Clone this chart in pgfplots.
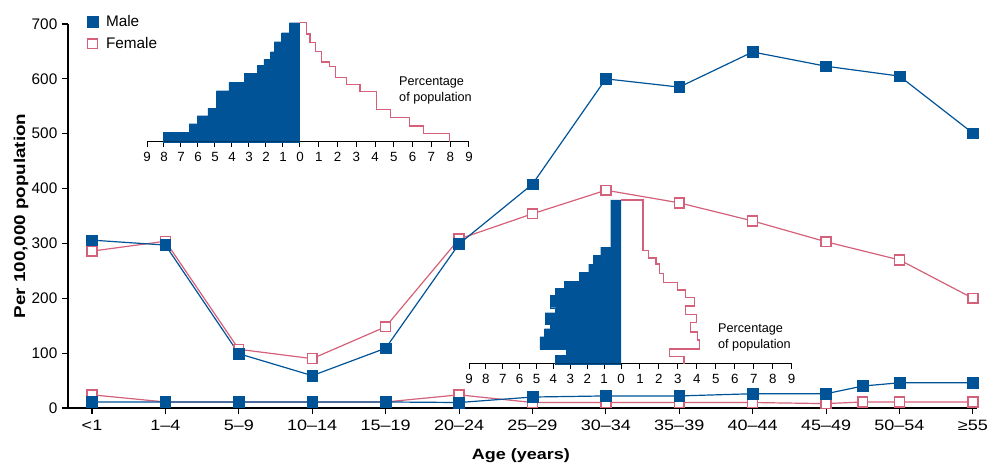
\documentclass[border=0pt]{standalone}
\usepackage{fontspec}
\setmainfont{Liberation Sans}
\newfontfamily\widesans{Liberation Sans}[FakeStretch=1.2, Ligatures=TeX]
\usepackage{pgfplots}
\pgfplotsset{compat=1.18}

\definecolor{male}{RGB}{0,83,151}
\definecolor{female}{RGB}{212,96,122}

\pgfplotsset{
  malestyle/.style={color=male, line width=0.9pt, mark=square*, mark size=4pt,
    mark options={solid, fill=male, draw=male, line width=0.4pt}},
  femalestyle/.style={color=female, line width=0.9pt, mark=square*, mark size=3.7pt,
    mark options={solid, fill=white, draw=female, line width=1.1pt}},
  inset/.style={
    scale only axis, clip=false,
    axis x line*=bottom, axis y line=none,
    axis line style={-, black, line width=0.75pt},
    tick align=outside, major tick length=4pt,
    tick style={black, line width=0.75pt},
    xticklabel style={font=\fontsize{10}{12}\selectfont, inner sep=1pt, yshift=-2.8pt},
    xmin=0, xmax=9, ymin=0,
  },
}

\begin{document}
\begin{tikzpicture}
\useasboundingbox (0,0) rectangle (740.25pt,348pt);

% main chart
\begin{axis}[
  at={(51pt,42pt)}, anchor=south west,
  scale only axis, width=681.4pt, height=288pt,
  xmin=-0.327, xmax=12.05, ymin=0, ymax=700,
  clip=false,
  axis x line*=bottom, axis y line*=left,
  axis line style={-, black, line width=0.8pt},
  tick align=outside, major tick length=4.5pt,
  tick style={black, line width=0.8pt},
  xtick={0,...,12},
  xticklabels={<1,1–4,5–9,10–14,15–19,20–24,25–29,30–34,35–39,40–44,45–49,50–54,≥55},
  xticklabel style={font=\widesans\fontsize{11.25}{13}\selectfont, yshift=-1pt},
  ytick={0,100,...,700},
  yticklabel style={font=\fontsize{11.5}{13}\selectfont, /pgf/number format/assume math mode=true},
  xlabel={Age (years)},
  ylabel={Per 100,000 population},
  every axis x label/.style={at={(axis description cs:0.4986,-0.125)}, anchor=center,
    font=\widesans\bfseries\fontsize{11.25}{13}\selectfont},
  every axis y label/.style={at={(axis description cs:-0.0517,0.5)}, rotate=90, anchor=center,
    font=\widesans\bfseries\fontsize{11.75}{13}\selectfont},
  reverse legend,
  legend cell align=left,
  legend image code/.code={\draw[#1] plot coordinates {(0pt,0pt)};},
  legend style={at={(axis description cs:0.021,1.03)}, anchor=north west,
    draw=none, fill=none, inner sep=0pt, row sep=2.5pt, column sep=4pt,
    font=\fontsize{11.5}{13}\selectfont},
]
\addplot[femalestyle] coordinates {
  (0,286) (1,304) (2,107) (3,90) (4,148) (5,308) (6,354)
  (7,397) (8,374) (9,341) (10,303) (11,270) (12,200)
};
\addlegendentry{Female}
\addplot[femalestyle, forget plot] coordinates {
  (0,24) (1,11) (2,11) (3,11) (4,11) (5,24) (6,10)
  (7,10) (8,10) (9,10) (10,8) (10.5,11) (11,11) (12,11)
};
\addplot[malestyle] coordinates {
  (0,306) (1,297) (2,99) (3,59) (4,109) (5,299) (6,408)
  (7,600) (8,585) (9,649) (10,623) (11,605) (12,501)
};
\addlegendentry{Male}
\addplot[malestyle, forget plot] coordinates {
  (0,11) (1,11) (2,11) (3,11) (4,11) (5,10) (6,20)
  (7,22) (8,22) (9,26) (10,26) (10.5,40) (11,46) (12,46)
};
\end{axis}

% inset 1, male half
\begin{axis}[inset, at={(110.25pt,241.7pt)}, anchor=south west,
  width=114.75pt, height=89.25pt, ymax=119, x dir=reverse,
  xtick={0,...,9}, xticklabels={0,1,2,3,4,5,6,7,8,9}]
\addplot[const plot, fill=male, draw=male, line width=0.3pt] coordinates {
  (0,119) (0.63,109) (1.08,100) (1.51,90) (1.73,82.3) (2.12,76.7) (2.51,68.3)
  (3.28,59.3) (4.18,51) (4.91,33.7) (5.42,26) (6.05,18) (6.52,9.3) (8.05,0) (0,0)
};
\end{axis}
% inset 1, female half
\begin{axis}[inset, at={(225pt,241.7pt)}, anchor=south west,
  width=126.75pt, height=89.25pt, ymax=119,
  xtick={1,...,9}, xticklabels={1,2,3,4,5,6,7,8,9}]
\addplot[const plot, draw=female, line width=0.9pt] coordinates {
  (0,119) (0.35,107.7) (0.53,99) (0.83,90) (1.15,79.7) (1.56,75) (1.91,64.3)
  (2.48,57.3) (3.19,50) (4.08,32.3) (4.82,24) (5.85,15.7) (6.56,8.3) (7.98,0)
};
\node[anchor=west, align=left, inner sep=0pt, font=\fontsize{9.5}{12}\selectfont]
  at (axis cs:5.27,51) {Percentage\\of population};
\end{axis}

% inset 2, male half
\begin{axis}[inset, at={(351.75pt,75.2pt)}, anchor=south west,
  width=114pt, height=122.8pt, ymax=163.7, x dir=reverse,
  xtick={0,...,9}, xticklabels={0,1,2,3,4,5,6,7,8,9}]
\addplot[const plot, fill=male, draw=male, line width=0.3pt] coordinates {
  (0,163.7) (0.61,116.7) (1.20,108.7) (1.64,99.7) (1.91,91.3) (2.47,82.7)
  (3.37,75.3) (3.87,68.3) (4.20,56) (3.87,51) (4.50,39.7) (4.20,35) (4.54,27)
  (4.80,14.7) (3.22,8.7) (3.87,0) (0,0)
};
\end{axis}
% inset 2, female half
\begin{axis}[inset, at={(465.75pt,75.2pt)}, anchor=south west,
  width=128pt, height=122.8pt, ymax=163.7,
  xtick={1,...,9}, xticklabels={1,2,3,4,5,6,7,8,9}]
\addplot[const plot, draw=female, line width=0.9pt] coordinates {
  (0,163.7) (1.16,113) (1.44,105.7) (1.84,99.7) (2.05,90.3) (2.23,81.3)
  (2.96,73.7) (3.40,66.3) (3.86,57.7) (3.42,49) (3.98,41) (3.68,31.7)
  (4.04,23.7) (4.16,14.7) (2.54,7) (3.32,0)
};
\node[anchor=west, align=left, inner sep=0pt, font=\fontsize{9.5}{12}\selectfont]
  at (axis cs:5.11,26) {Percentage\\of population};
\end{axis}
\end{tikzpicture}
\end{document}
